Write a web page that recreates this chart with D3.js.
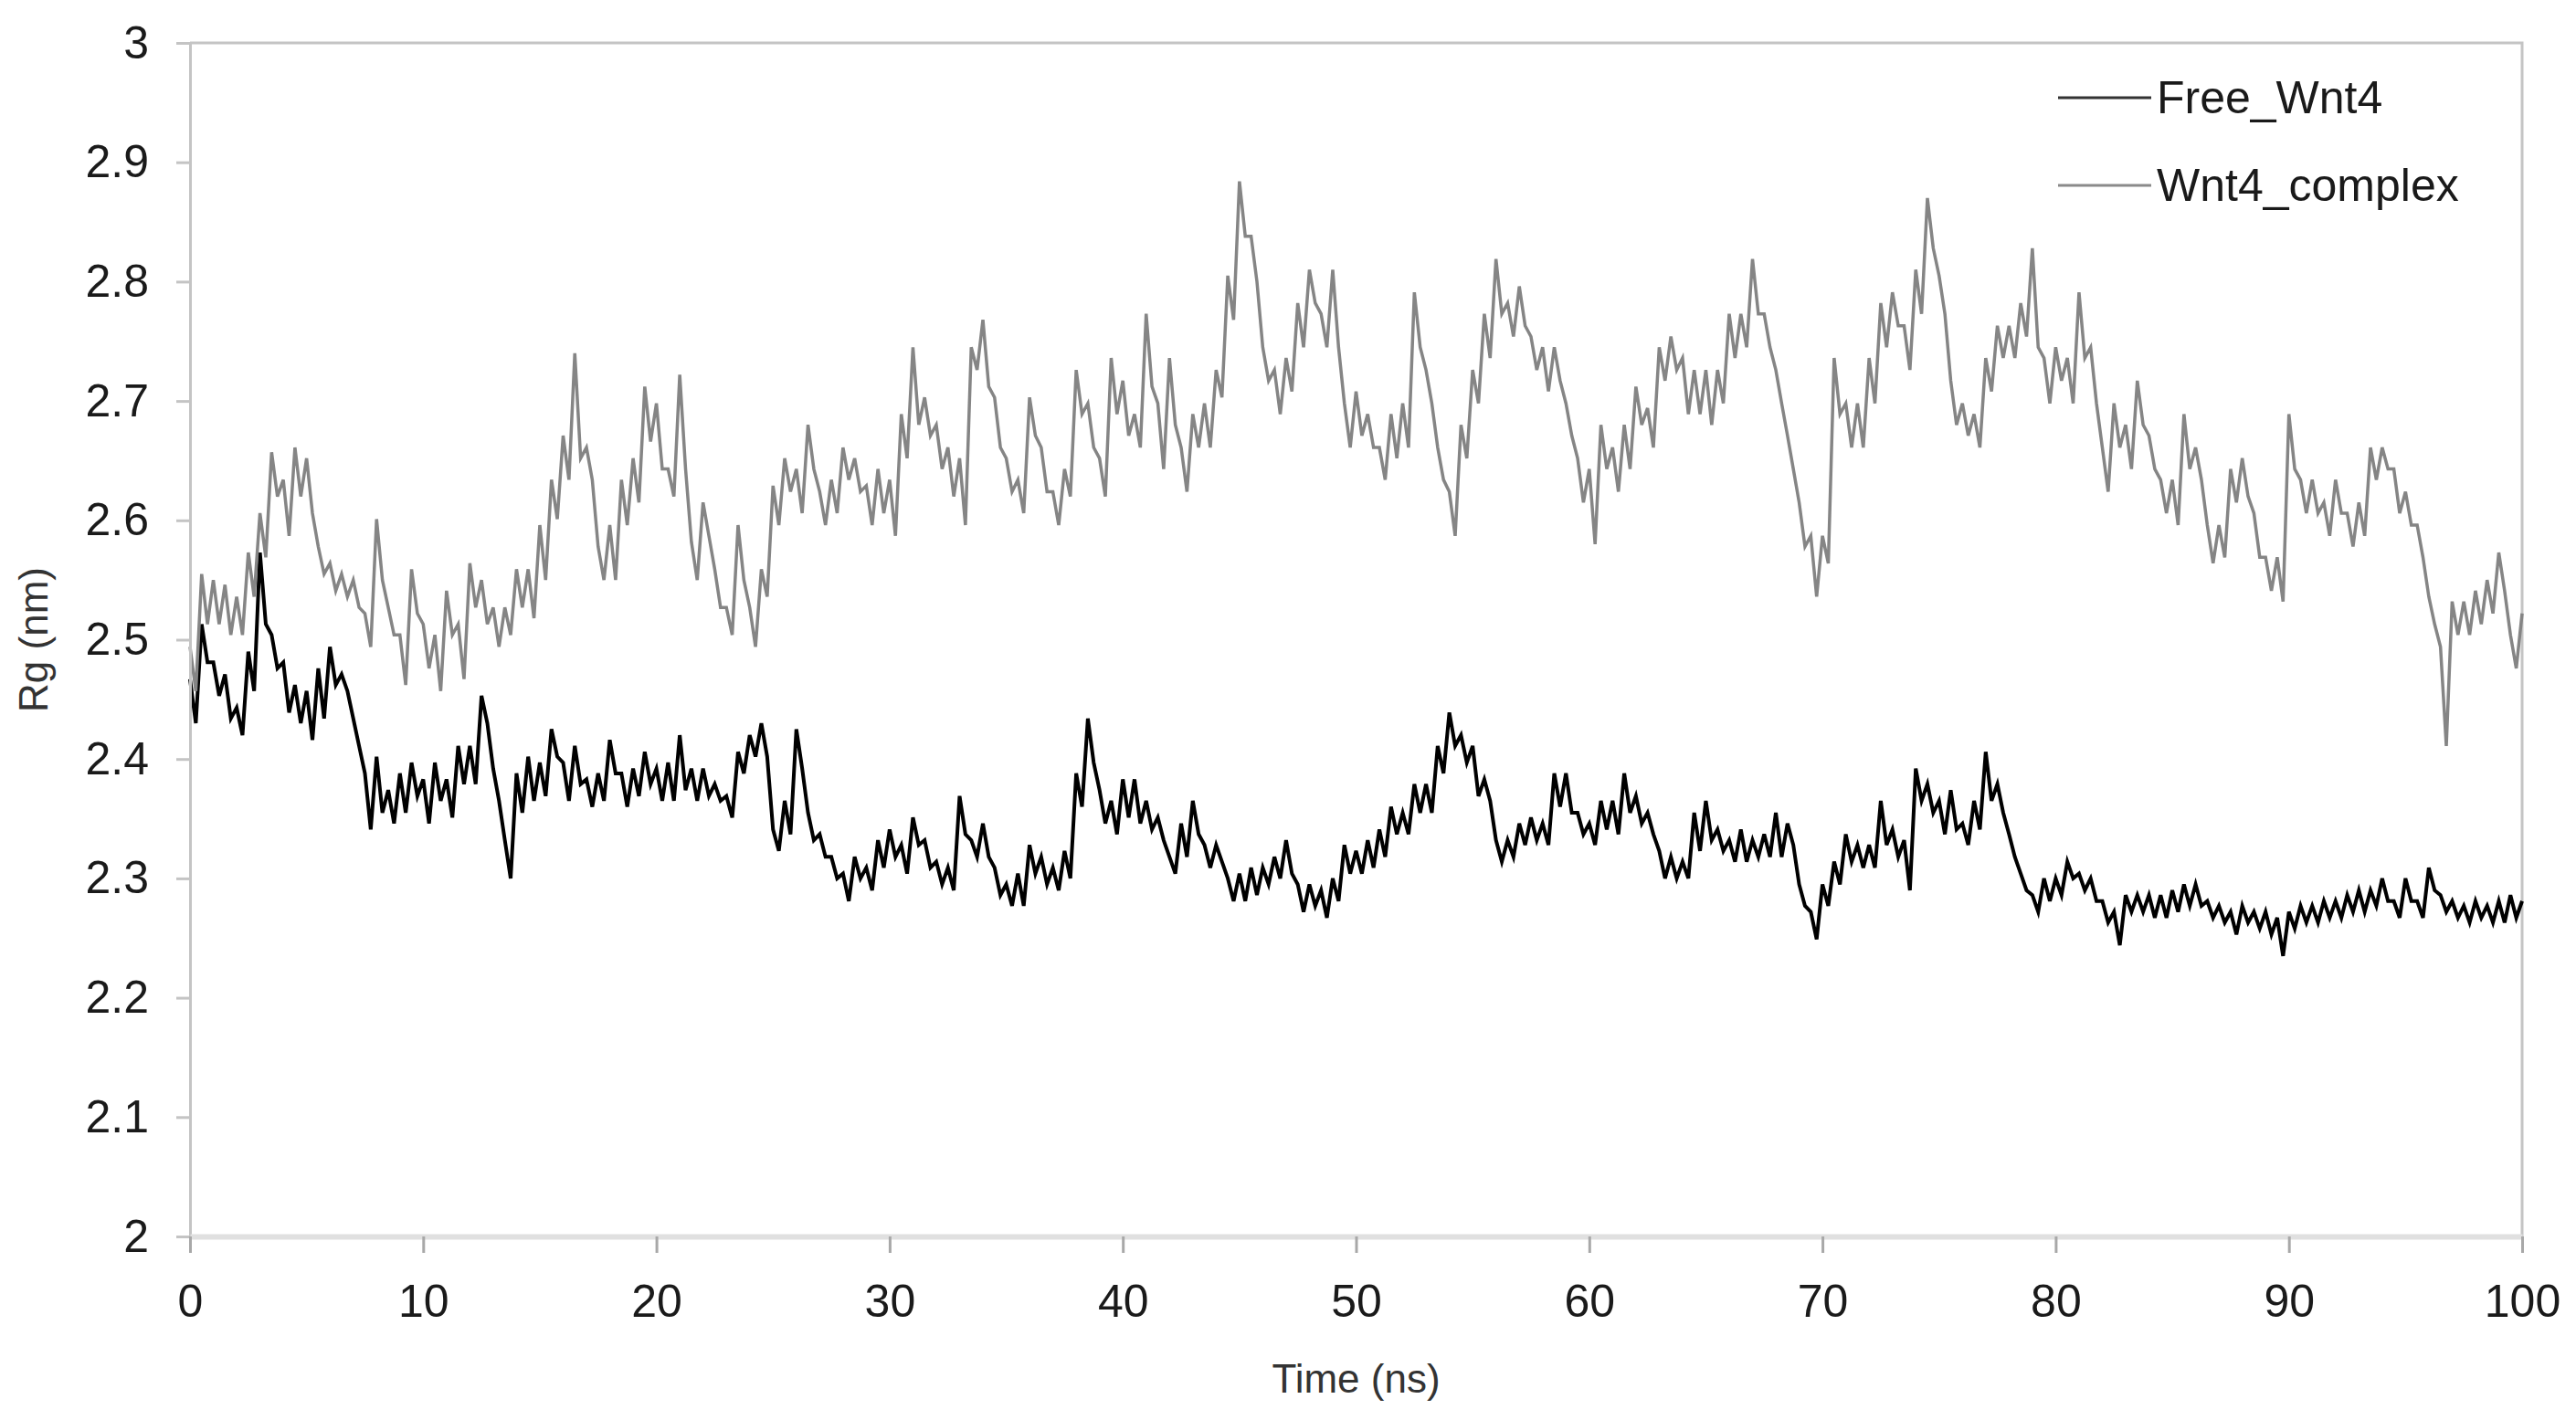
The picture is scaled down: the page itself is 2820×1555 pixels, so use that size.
<!doctype html>
<html>
<head>
<meta charset="utf-8">
<script src="https://cdn.jsdelivr.net/npm/d3@7"></script>
<style>
  body { margin: 0; background: #fff; }
  svg text { font-family: "Liberation Sans", Arial, sans-serif; }
</style>
</head>
<body>
<div id="chart"></div>
<script>
// Rg vs time, one sample every 0.25 ns
var timeStep = 0.25;
var xTicks = [0, 10, 20, 30, 40, 50, 60, 70, 80, 90, 100];
var yTicks = [2, 2.1, 2.2, 2.3, 2.4, 2.5, 2.6, 2.7, 2.8, 2.9, 3];
var seriesNames = ["Free_Wnt4", "Wnt4_complex"];
var seriesColors = ["#000000", "#858585"];

var freeWnt4 = [
  2.467,2.430, 2.513,2.481, 2.481,2.453, 2.471,2.434, 2.443,2.420, 2.490,2.457, 2.573,2.513, 2.504,2.476, 2.481,2.439, 2.462,2.430,
  2.457,2.416, 2.476,2.434, 2.494,2.462, 2.471,2.457, 2.434,2.411, 2.388,2.341, 2.402,2.355, 2.374,2.346, 2.388,2.355, 2.397,2.369,
  2.383,2.346, 2.397,2.365, 2.383,2.351, 2.411,2.379, 2.411,2.379, 2.453,2.430, 2.392,2.365, 2.332,2.300, 2.388,2.355, 2.402,2.365,
  2.397,2.369, 2.425,2.402, 2.397,2.365, 2.411,2.379, 2.383,2.360, 2.388,2.365, 2.416,2.388, 2.388,2.360, 2.392,2.369, 2.406,2.379,
  2.392,2.365, 2.397,2.365, 2.420,2.374, 2.392,2.365, 2.392,2.369, 2.379,2.365, 2.369,2.351, 2.406,2.388, 2.420,2.402, 2.430,2.402,
  2.341,2.323, 2.365,2.337, 2.425,2.392, 2.355,2.332, 2.337,2.318, 2.318,2.300, 2.304,2.281, 2.318,2.300, 2.309,2.290, 2.332,2.309,
  2.341,2.318, 2.328,2.304, 2.351,2.328, 2.332,2.309, 2.314,2.295, 2.309,2.290, 2.369,2.337, 2.332,2.318, 2.346,2.318, 2.309,2.286,
  2.295,2.277, 2.304,2.277, 2.328,2.304, 2.318,2.295, 2.309,2.290, 2.323,2.300, 2.388,2.360, 2.434,2.397, 2.374,2.346, 2.365,2.337,
  2.383,2.351, 2.383,2.346, 2.365,2.341, 2.351,2.332, 2.318,2.304, 2.346,2.318, 2.365,2.337, 2.328,2.309, 2.328,2.314, 2.300,2.281,
  2.304,2.281, 2.309,2.286, 2.309,2.295, 2.318,2.300, 2.332,2.304, 2.295,2.272, 2.295,2.277, 2.290,2.267, 2.300,2.281, 2.328,2.304,
  2.323,2.304, 2.332,2.309, 2.341,2.318, 2.360,2.337, 2.355,2.337, 2.379,2.355, 2.379,2.355, 2.411,2.388, 2.439,2.411, 2.420,2.397,
  2.411,2.369, 2.383,2.365, 2.332,2.314, 2.332,2.318, 2.346,2.328, 2.351,2.332, 2.346,2.328, 2.388,2.360, 2.388,2.355, 2.355,2.337,
  2.346,2.328, 2.365,2.341, 2.365,2.337, 2.388,2.355, 2.369,2.346, 2.355,2.337, 2.323,2.300, 2.318,2.300, 2.314,2.300, 2.355,2.323,
  2.365,2.332, 2.341,2.323, 2.332,2.314, 2.341,2.314, 2.332,2.318, 2.337,2.318, 2.355,2.318, 2.346,2.328, 2.295,2.277, 2.272,2.249,
  2.295,2.277, 2.314,2.295, 2.337,2.314, 2.328,2.309, 2.328,2.309, 2.365,2.328, 2.341,2.318, 2.332,2.290, 2.392,2.365, 2.379,2.355,
  2.365,2.337, 2.374,2.341, 2.346,2.328, 2.365,2.341, 2.406,2.365, 2.379,2.355, 2.337,2.318, 2.304,2.290, 2.286,2.272, 2.300,2.281,
  2.300,2.286, 2.314,2.300, 2.304,2.290, 2.300,2.281, 2.281,2.263, 2.272,2.244, 2.286,2.272, 2.286,2.272, 2.286,2.267, 2.286,2.267,
  2.290,2.272, 2.295,2.277, 2.295,2.277, 2.281,2.267, 2.277,2.263, 2.272,2.253, 2.277,2.263, 2.272,2.258, 2.272,2.253, 2.267,2.235,
  2.272,2.258, 2.277,2.263, 2.277,2.263, 2.281,2.267, 2.281,2.267, 2.286,2.272, 2.290,2.272, 2.290,2.277, 2.300,2.281, 2.281,2.267,
  2.300,2.281, 2.281,2.267, 2.309,2.290, 2.286,2.272, 2.281,2.267, 2.277,2.263, 2.281,2.267, 2.277,2.263, 2.281,2.263, 2.286,2.267,
  2.281
];

var wnt4Complex = [
  2.494,2.457, 2.555,2.513, 2.550,2.513, 2.546,2.504, 2.536,2.504, 2.573,2.536, 2.606,2.569, 2.657,2.620, 2.634,2.587, 2.661,2.620,
  2.652,2.606, 2.578,2.555, 2.564,2.541, 2.555,2.536, 2.550,2.527, 2.522,2.494, 2.601,2.550, 2.527,2.504, 2.504,2.462, 2.559,2.522,
  2.513,2.476, 2.504,2.457, 2.541,2.504, 2.513,2.467, 2.564,2.527, 2.550,2.513, 2.527,2.494, 2.527,2.504, 2.559,2.527, 2.559,2.518,
  2.596,2.550, 2.634,2.601, 2.671,2.634, 2.740,2.652, 2.661,2.634, 2.578,2.550, 2.596,2.550, 2.634,2.596, 2.652,2.615, 2.712,2.666,
  2.698,2.643, 2.643,2.620, 2.722,2.643, 2.582,2.550, 2.615,2.587, 2.559,2.527, 2.527,2.504, 2.596,2.550, 2.527,2.494, 2.559,2.536,
  2.629,2.596, 2.652,2.624, 2.643,2.606, 2.680,2.643, 2.624,2.596, 2.634,2.606, 2.661,2.634, 2.652,2.624, 2.629,2.596, 2.643,2.606,
  2.634,2.587, 2.689,2.652, 2.745,2.680, 2.703,2.671, 2.680,2.643, 2.661,2.620, 2.652,2.596, 2.745,2.726, 2.768,2.712, 2.703,2.661,
  2.652,2.624, 2.634,2.606, 2.703,2.671, 2.661,2.624, 2.624,2.596, 2.643,2.620, 2.726,2.689, 2.698,2.661, 2.652,2.620, 2.736,2.689,
  2.717,2.671, 2.689,2.661, 2.773,2.712, 2.698,2.643, 2.736,2.680, 2.661,2.624, 2.689,2.661, 2.698,2.661, 2.726,2.703, 2.805,2.768,
  2.884,2.838, 2.838,2.800, 2.745,2.717, 2.726,2.689, 2.736,2.708, 2.782,2.745, 2.810,2.782, 2.773,2.745, 2.810,2.745, 2.698,2.661,
  2.708,2.671, 2.689,2.661, 2.661,2.634, 2.689,2.652, 2.698,2.661, 2.791,2.745, 2.726,2.698, 2.661,2.634, 2.624,2.587, 2.680,2.652,
  2.726,2.698, 2.773,2.736, 2.819,2.773, 2.782,2.754, 2.796,2.763, 2.754,2.726, 2.745,2.708, 2.745,2.717, 2.698,2.671, 2.652,2.615,
  2.643,2.580, 2.680,2.643, 2.661,2.624, 2.680,2.643, 2.712,2.680, 2.694,2.661, 2.745,2.717, 2.754,2.726, 2.736,2.689, 2.726,2.689,
  2.726,2.680, 2.726,2.698, 2.773,2.736, 2.773,2.745, 2.819,2.773, 2.773,2.745, 2.726,2.698, 2.671,2.643, 2.615,2.578, 2.587,2.536,
  2.587,2.564, 2.736,2.689, 2.698,2.661, 2.698,2.661, 2.736,2.698, 2.782,2.745, 2.791,2.763, 2.763,2.726, 2.810,2.773, 2.870,2.828,
  2.805,2.773, 2.717,2.680, 2.698,2.671, 2.689,2.661, 2.736,2.708, 2.763,2.736, 2.763,2.736, 2.782,2.754, 2.828,2.745, 2.736,2.698,
  2.745,2.717, 2.736,2.698, 2.791,2.736, 2.745,2.698, 2.661,2.624, 2.698,2.661, 2.680,2.643, 2.717,2.680, 2.671,2.643, 2.634,2.606,
  2.634,2.596, 2.689,2.643, 2.661,2.634, 2.596,2.564, 2.596,2.569, 2.643,2.615, 2.652,2.620, 2.606,2.569, 2.569,2.541, 2.569,2.532,
  2.689,2.643, 2.634,2.606, 2.634,2.606, 2.615,2.587, 2.634,2.606, 2.606,2.578, 2.615,2.587, 2.661,2.634, 2.661,2.643, 2.643,2.606,
  2.624,2.596, 2.596,2.569, 2.536,2.513, 2.494,2.411, 2.532,2.504, 2.532,2.504, 2.541,2.513, 2.550,2.522, 2.573,2.541, 2.504,2.476,
  2.522
];

var width = 2820, height = 1555;
var margin = {top: 47, right: 59, bottom: 201, left: 208};
var plotW = width - margin.left - margin.right;
var plotH = height - margin.top - margin.bottom;

var svg = d3.select("#chart").append("svg")
  .attr("width", width)
  .attr("height", height)
  .style("background", "#fff");

var g = svg.append("g").attr("transform", "translate(" + margin.left + "," + margin.top + ")");

var x = d3.scaleLinear().domain([0, 100]).range([0, plotW]);
var y = d3.scaleLinear().domain([2, 3]).range([plotH, 0]);

// frame (top and right)
g.append("path")
  .attr("d", "M0,0H" + plotW + "V" + plotH)
  .attr("fill", "none")
  .attr("stroke", "#c4c4c4")
  .attr("stroke-width", 3);

// series
var series = [freeWnt4, wnt4Complex];
var widths = [4, 3.5];
var line = d3.line()
  .x(function(d, i) { return x(i * timeStep); })
  .y(function(d) { return y(d); });

series.forEach(function(s, k) {
  g.append("path")
    .datum(s)
    .attr("fill", "none")
    .attr("stroke", seriesColors[k])
    .attr("stroke-width", widths[k])
    .attr("stroke-linejoin", "miter")
    .attr("d", line);
});

// y axis
var yAxis = g.append("g")
  .call(d3.axisLeft(y).tickValues(yTicks).tickSize(15).tickPadding(30)
    .tickFormat(function(d) { return String(+d.toFixed(1)); }));
yAxis.select(".domain").attr("stroke", "#c4c4c4").attr("stroke-width", 3);
yAxis.selectAll(".tick line").attr("stroke", "#c4c4c4").attr("stroke-width", 3);
yAxis.selectAll(".tick text").attr("font-size", 50).attr("fill", "#1a1a1a");

// x axis
var xAxis = g.append("g")
  .attr("transform", "translate(0," + plotH + ")")
  .call(d3.axisBottom(x).tickValues(xTicks).tickSize(18).tickPadding(34).tickSizeOuter(0));
xAxis.select(".domain").attr("stroke", "#e0e0e0").attr("stroke-width", 6);
xAxis.selectAll(".tick line").attr("stroke", "#a8a8a8").attr("stroke-width", 3);
xAxis.selectAll(".tick text").attr("font-size", 50).attr("fill", "#1a1a1a");

// axis titles
svg.append("text")
  .attr("x", margin.left + plotW / 2)
  .attr("y", 1525)
  .attr("text-anchor", "middle")
  .attr("font-size", 44)
  .attr("fill", "#333")
  .text("Time (ns)");

svg.append("text")
  .attr("transform", "translate(52," + (margin.top + plotH / 2) + ") rotate(-90)")
  .attr("text-anchor", "middle")
  .attr("font-size", 44)
  .attr("fill", "#333")
  .text("Rg (nm)");

// legend
var legend = svg.append("g");
var legendY = [107, 203];
seriesNames.forEach(function(name, k) {
  legend.append("line")
    .attr("x1", 2253).attr("x2", 2355)
    .attr("y1", legendY[k]).attr("y2", legendY[k])
    .attr("stroke", k === 0 ? "#333" : "#8a8a8a")
    .attr("stroke-width", 3);
  legend.append("text")
    .attr("x", 2361)
    .attr("y", legendY[k] + 17)
    .attr("font-size", 50)
    .attr("fill", "#1a1a1a")
    .text(name);
});
</script>
</body>
</html>
